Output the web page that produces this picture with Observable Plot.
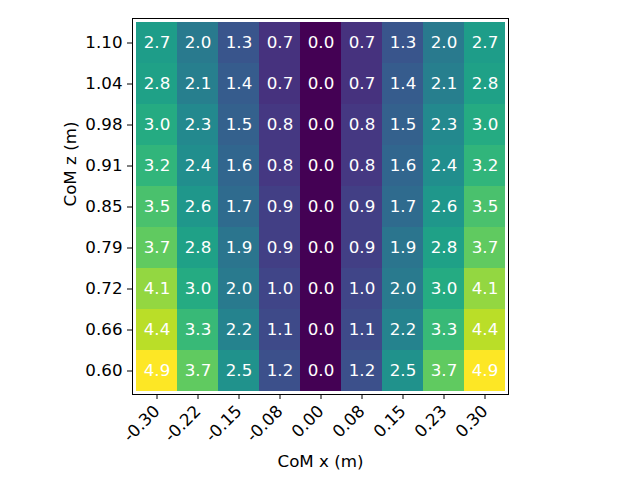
<!DOCTYPE html>
<html>
<head>
<meta charset="utf-8">
<script src="https://cdn.jsdelivr.net/npm/d3@7"></script>
<script src="https://cdn.jsdelivr.net/npm/@observablehq/plot@0.6"></script>
<style>
  html, body { margin: 0; padding: 0; background: #fff; }
  #chart { width: 640px; height: 480px; }
</style>
</head>
<body>
<div id="chart"></div>
<script>
const xLabels = ["-0.30", "-0.22", "-0.15", "-0.08", "0.00", "0.08", "0.15", "0.23", "0.30"];
// rows listed from top (1.10) to bottom (0.60)
const zLabels = ["1.10", "1.04", "0.98", "0.91", "0.85", "0.79", "0.72", "0.66", "0.60"];
const values = [
  [2.7, 2.0, 1.3, 0.7, 0.0, 0.7, 1.3, 2.0, 2.7],
  [2.8, 2.1, 1.4, 0.7, 0.0, 0.7, 1.4, 2.1, 2.8],
  [3.0, 2.3, 1.5, 0.8, 0.0, 0.8, 1.5, 2.3, 3.0],
  [3.2, 2.4, 1.6, 0.8, 0.0, 0.8, 1.6, 2.4, 3.2],
  [3.5, 2.6, 1.7, 0.9, 0.0, 0.9, 1.7, 2.6, 3.5],
  [3.7, 2.8, 1.9, 0.9, 0.0, 0.9, 1.9, 2.8, 3.7],
  [4.1, 3.0, 2.0, 1.0, 0.0, 1.0, 2.0, 3.0, 4.1],
  [4.4, 3.3, 2.2, 1.1, 0.0, 1.1, 2.2, 3.3, 4.4],
  [4.9, 3.7, 2.5, 1.2, 0.0, 1.2, 2.5, 3.7, 4.9]
];
const xTitle = "CoM x (m)";
const zTitle = "CoM z (m)";

const cells = [];
zLabels.forEach((z, i) => xLabels.forEach((x, j) => cells.push({x, z, v: values[i][j]})));
const vmax = d3.max(cells, d => d.v);

const font = "DejaVu Sans, sans-serif";
const big = 16.7;
const xTickSize = 16.7;
const chart = Plot.plot({
  width: 640,
  height: 480,
  marginTop: 18,
  marginBottom: 86,
  marginLeft: 132,
  marginRight: 132,
  style: {fontFamily: font, fontSize: big + "px", background: "#fff", color: "black"},
  x: {type: "band", domain: xLabels, padding: 0},
  y: {type: "band", domain: zLabels, padding: 0},
  color: {type: "linear", scheme: "viridis", domain: [0, vmax]},
  marks: [
    Plot.cell(cells, {x: "x", y: "z", fill: "v", inset: 0}),
    Plot.text(cells, {x: "x", y: "z", text: d => d.v.toFixed(1), fill: "white", fontSize: big}),
    Plot.frame({stroke: "black", strokeWidth: 1}),
    Plot.axisX({tickSize: 5, tickPadding: 9, tickRotate: -45, fontSize: xTickSize, label: null, stroke: "black", fontFamily: font}),
    Plot.axisY({tickSize: 5, tickPadding: 5, fontSize: big, label: null, stroke: "black", fontFamily: font}),
    Plot.text([xTitle], {frameAnchor: "bottom", dy: 72, fontSize: big, fill: "black"}),
    Plot.text([zTitle], {frameAnchor: "left", dx: -62, rotate: -90, fontSize: big, fill: "black"})
  ]
});
d3.select(chart).selectAll('g[aria-label="x-axis tick label"]').attr("font-size", xTickSize).attr("font-family", font);
d3.select(chart).selectAll('g[aria-label="y-axis tick label"]').attr("font-size", big).attr("font-family", font);
document.getElementById("chart").appendChild(chart);
</script>
</body>
</html>
